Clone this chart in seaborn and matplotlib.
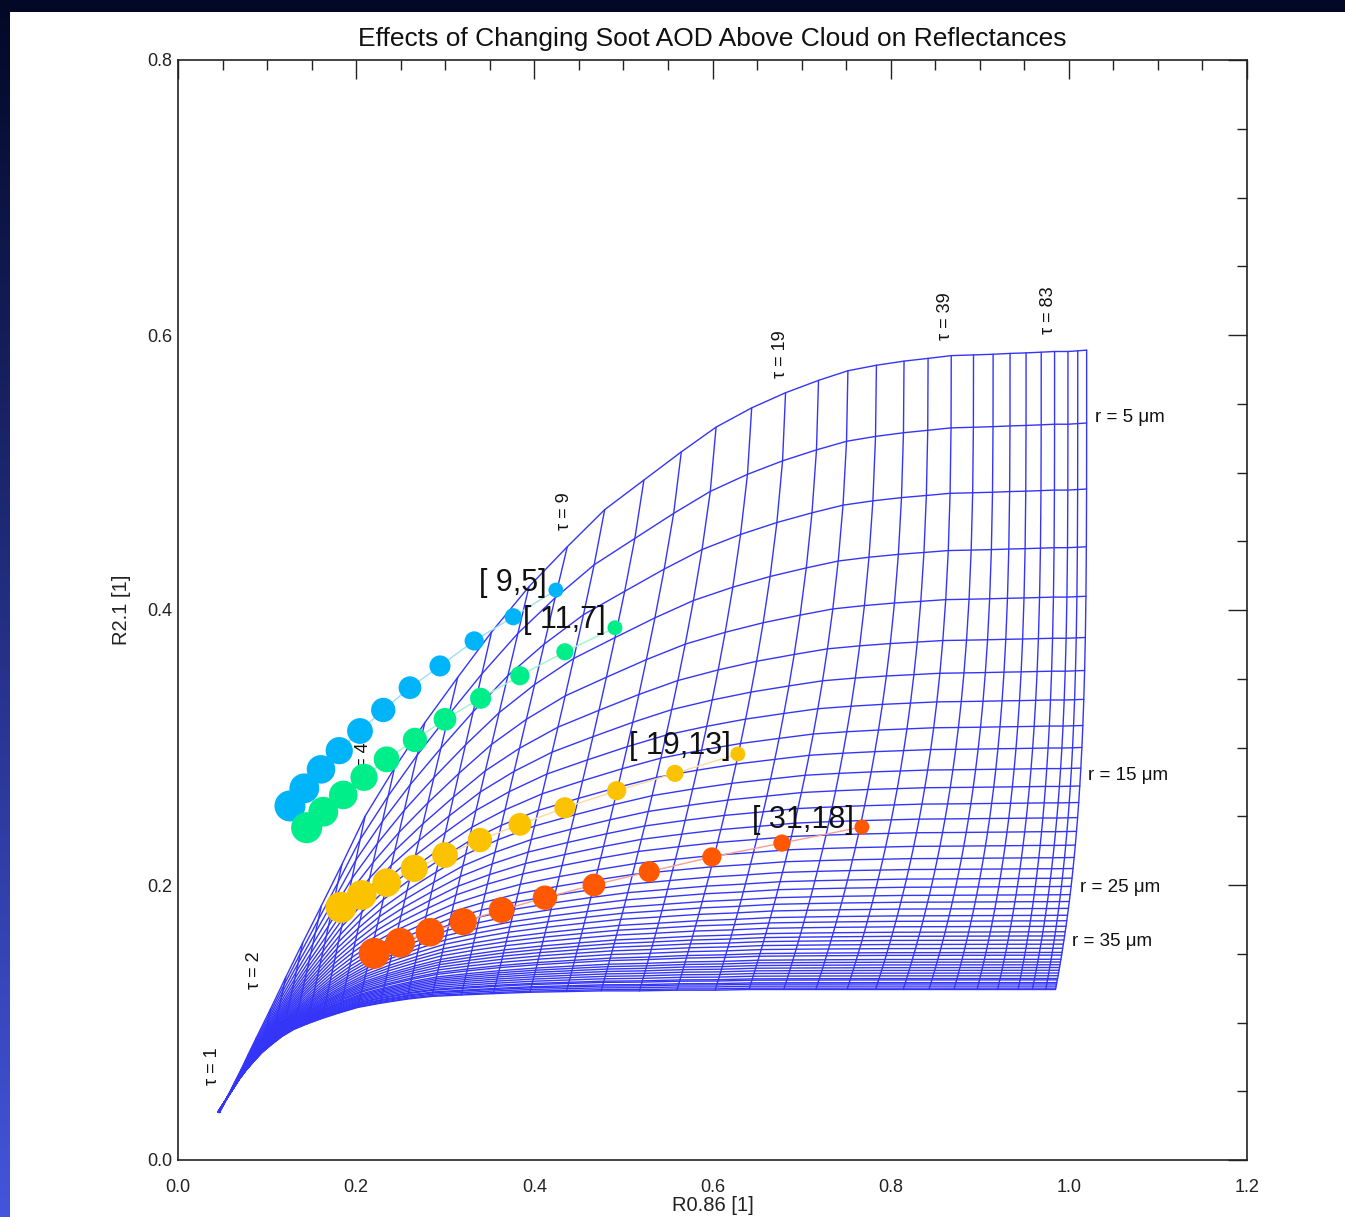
import numpy as np
import pandas as pd
import matplotlib
matplotlib.use("Agg")
import matplotlib.pyplot as plt
from matplotlib.patches import Rectangle
from matplotlib.ticker import MultipleLocator
import seaborn as sns

# ---------------- data ----------------
# optical-thickness lines of the look-up table
tau_values = [1.0, 1.12, 1.26, 1.41, 1.59, 1.78, 2.0, 2.24, 2.52, 2.83, 3.17, 3.56, 4.0,
              4.6, 5.2, 6.0, 6.8, 7.9, 9.0, 10.3, 11.8, 13.5, 15.2, 17.0, 19.0,
              21.7, 24.8, 28.2, 31.5, 35.0, 39.0, 44.5, 51.0, 58.0, 65.0, 73.5, 83.0,
              94.0, 107.0, 122.0]
# each tau line: R0.86 / R2.1 on the smallest-radius edge (top), where it crosses r = 15 um,
# and on the largest-radius edge (bottom)
x_top = [0.047, 0.052, 0.058, 0.064, 0.071, 0.079, 0.088, 0.104, 0.121, 0.140, 0.161, 0.184, 0.210,
         0.243, 0.277, 0.314, 0.352, 0.394, 0.437, 0.479, 0.523, 0.565, 0.604, 0.644, 0.682,
         0.719, 0.752, 0.784, 0.815, 0.842, 0.868, 0.893, 0.915, 0.934, 0.952, 0.969, 0.984,
         0.999, 1.010, 1.020]
y_top = [0.035, 0.041, 0.049, 0.057, 0.066, 0.077, 0.089, 0.110, 0.133, 0.158, 0.185, 0.215, 0.250,
         0.285, 0.318, 0.351, 0.384, 0.417, 0.446, 0.473, 0.4945, 0.515, 0.533, 0.547, 0.558,
         0.567, 0.574, 0.578, 0.581, 0.583, 0.585, 0.5855, 0.586, 0.5866, 0.587, 0.5875, 0.588,
         0.588, 0.5885, 0.589]
x_r15 = [0.0456, 0.0506, 0.0566, 0.0626, 0.0696, 0.0770, 0.0853, 0.0972, 0.1100, 0.1243, 0.1399,
         0.1574, 0.1773, 0.2007, 0.2259, 0.2547, 0.2872, 0.3197, 0.3558, 0.3965, 0.4411, 0.4850,
         0.5279, 0.5734, 0.6173, 0.6610, 0.6998, 0.7382, 0.7744, 0.8074, 0.8383, 0.8669, 0.8927,
         0.9157, 0.9366, 0.9558, 0.9738, 0.9894, 1.0017, 1.0123]
x_bot = [0.045, 0.050, 0.056, 0.062, 0.069, 0.076, 0.084, 0.094, 0.105, 0.117, 0.130, 0.145, 0.162,
         0.181, 0.202, 0.227, 0.257, 0.285, 0.318, 0.354, 0.395, 0.436, 0.475, 0.518, 0.560,
         0.603, 0.641, 0.680, 0.716, 0.751, 0.783, 0.814, 0.843, 0.871, 0.897, 0.920, 0.943,
         0.959, 0.974, 0.985]
y_bot = [0.035, 0.040, 0.046, 0.052, 0.059, 0.065, 0.071, 0.078, 0.084, 0.090, 0.095, 0.099, 0.103,
         0.107, 0.111, 0.114, 0.117, 0.119, 0.120, 0.121, 0.122, 0.1225, 0.123, 0.123, 0.1235,
         0.1235, 0.124, 0.124, 0.124, 0.124, 0.124, 0.124, 0.124, 0.124, 0.124, 0.124, 0.124,
         0.124, 0.124, 0.124]
# effective-radius lines and their R2.1 at the thick-cloud (right) edge
r_values = list(range(4, 51))
r_edge = [0.589, 0.536, 0.488, 0.446, 0.410, 0.380, 0.356, 0.335, 0.316, 0.300, 0.285, 0.272,
          0.260, 0.249, 0.239, 0.229, 0.220, 0.212, 0.205, 0.199, 0.193, 0.188, 0.183, 0.178,
          0.174, 0.170, 0.166, 0.163, 0.160, 0.157, 0.154, 0.151, 0.149, 0.146, 0.144, 0.142,
          0.140, 0.138, 0.136, 0.134, 0.132, 0.131, 0.129, 0.128, 0.1265, 0.125, 0.124]

tau_labels = {1: (0.039, 0.068), 2: (0.086, 0.138), 4: (0.208, 0.290), 9: (0.434, 0.472),
              19: (0.676, 0.586), 39: (0.861, 0.614), 83: (0.977, 0.618)}
r_labels = {5: (1.029, 0.540), 15: (1.021, 0.280), 25: (1.012, 0.1985), 35: (1.003, 0.159)}

# soot AOD series (dots go from the clean-cloud point to increasing AOD)
aod_levels = [0.0, 0.1, 0.2, 0.3, 0.4, 0.5, 0.6, 0.7, 0.8, 0.9, 1.0]
blue_x = [0.4242, 0.3763, 0.3325, 0.2941, 0.2604, 0.2304, 0.2043, 0.1810, 0.1605, 0.1418, 0.1257]
blue_y = [0.4145, 0.3951, 0.3775, 0.3593, 0.3435, 0.3273, 0.3120, 0.2977, 0.2841, 0.2703, 0.2575]
green_x = [0.4905, 0.4343, 0.3838, 0.3397, 0.2997, 0.2660, 0.2342, 0.2088, 0.1855, 0.1631, 0.1444]
green_y = [0.3871, 0.3696, 0.3522, 0.3358, 0.3205, 0.3055, 0.2914, 0.2783, 0.2655, 0.2533, 0.2417]
yellow_x = [0.6285, 0.5578, 0.4924, 0.4343, 0.3838, 0.3389, 0.2997, 0.2652, 0.2342, 0.2062, 0.1829]
yellow_y = [0.2953, 0.2812, 0.2686, 0.2562, 0.2441, 0.2327, 0.2218, 0.2121, 0.2017, 0.1927, 0.1838]
red_x = [0.7677, 0.6779, 0.5993, 0.5290, 0.4669, 0.4119, 0.3633, 0.3202, 0.2828, 0.2492, 0.2203]
red_y = [0.2422, 0.2305, 0.2204, 0.2097, 0.2000, 0.1908, 0.1818, 0.1733, 0.1656, 0.1580, 0.1503]
series_names = ["[ 9,5]", "[ 11,7]", "[ 19,13]", "[ 31,18]"]
series_label_pos = [(0.376, 0.420), (0.434, 0.393), (0.563, 0.301), (0.701, 0.247)]

# ---------------- build tables ----------------
span = r_edge[0] - r_edge[-1]
s_frac = [(v - r_edge[-1]) / span for v in r_edge]          # position of each r line, 0..1
s15 = s_frac[r_values.index(15)]
rows = []
for i, t in enumerate(tau_values):
    dx = x_top[i] - x_bot[i]
    frac15 = (x_top[i] - x_r15[i]) / dx if dx > 0 else 1 - s15
    bend = np.log(max(frac15, 1e-6)) / np.log(1 - s15)       # how strongly the tau line bends
    for j, r in enumerate(r_values):
        s = s_frac[j]
        xv = x_top[i] - dx * (1 - s) ** bend
        yv = y_bot[i] + s * (y_top[i] - y_bot[i])
        rows.append((r, i, xv, yv))
grid_df = pd.DataFrame(rows, columns=["r", "tau_idx", "x", "y"])

dot_frames = []
for name, xs, ys in zip(series_names, [blue_x, green_x, yellow_x, red_x],
                        [blue_y, green_y, yellow_y, red_y]):
    dot_frames.append(pd.DataFrame({"series": name, "aod": aod_levels, "x": xs, "y": ys}))
dots = pd.concat(dot_frames, ignore_index=True)

dot_colors = {"[ 9,5]": "#00b4fa", "[ 11,7]": "#00ee8a", "[ 19,13]": "#fbc200", "[ 31,18]": "#ff5800"}
link_colors = {"[ 9,5]": "#9fdcf8", "[ 11,7]": "#9ff5c8", "[ 19,13]": "#fcd9a0", "[ 31,18]": "#f5a090"}
GRID = "#3535f8"

# ---------------- figure ----------------
sns.set_theme(style="white")
plt.rcParams["font.family"] = ["Liberation Sans", "DejaVu Sans"]
plt.rcParams["axes.unicode_minus"] = False

W, H = 1345, 1217
fig = plt.figure(figsize=(W / 100, H / 100), dpi=100)
fig.patch.set_facecolor("#020826")

bg = fig.add_axes([0, 0, 1, 1], zorder=-10)
bg.set_axis_off()
bg.set_xlim(0, 1)
bg.set_ylim(0, 1)
grad = np.linspace(0, 1, 256)[:, None]
c_top = np.array([0x02, 0x08, 0x26]) / 255
c_bot = np.array([0x44, 0x55, 0xdd]) / 255
img = c_bot[None, None, :] * (1 - grad[:, :, None]) + c_top[None, None, :] * grad[:, :, None]
img = img[::-1]
bg.imshow(img, extent=[0, 10 / W, 0, 1], aspect="auto", origin="upper", zorder=0)
bg.add_patch(Rectangle((10 / W, 0), 1 - 10 / W, 1 - 12 / H, facecolor="white",
                       edgecolor="none", zorder=1))

ax = fig.add_axes([178 / W, 1 - 1160 / H, (1247 - 178) / W, 1100 / H])
ax.set_facecolor("white")

# LUT grid: radius lines and optical thickness lines
sns.lineplot(data=grid_df.sort_values(["r", "tau_idx"]), x="x", y="y", units="r",
             estimator=None, sort=False, color=GRID, lw=1.0, ax=ax, legend=False, zorder=2)
sns.lineplot(data=grid_df.sort_values(["tau_idx", "r"]), x="x", y="y", units="tau_idx",
             estimator=None, sort=False, color=GRID, lw=1.0, ax=ax, legend=False, zorder=2)

# tau / radius labels (under the dots)
for t, (lx, ly) in tau_labels.items():
    ax.text(lx, ly, f"τ = {t}", rotation=90, ha="center", va="center", fontsize=13,
            color="#111111", zorder=3)
for r, (lx, ly) in r_labels.items():
    ax.text(lx, ly, f"r = {r} μm", ha="left", va="center", fontsize=13.5, color="#111111", zorder=3)

# AOD series
for name in series_names:
    sub = dots[dots["series"] == name]
    sns.lineplot(data=sub, x="x", y="y", sort=False, color=link_colors[name], lw=1.0,
                 ax=ax, legend=False, zorder=4)
sns.scatterplot(data=dots, x="x", y="y", hue="series", palette=dot_colors, size="aod",
                sizes=(115, 500), linewidth=0, legend=False, ax=ax, zorder=5, alpha=1)
for name, (lx, ly) in zip(series_names, series_label_pos):
    ax.text(lx, ly, name, ha="center", va="center", fontsize=22, color="#111111", zorder=6)

ax.set_xlim(0, 1.2)
ax.set_ylim(0, 0.8)
ax.set_xticks(np.arange(0, 1.21, 0.2))
ax.set_yticks(np.arange(0, 0.81, 0.2))
ax.xaxis.set_minor_locator(MultipleLocator(0.05))
ax.yaxis.set_minor_locator(MultipleLocator(0.05))
ax.tick_params(which="both", direction="in", top=True, right=True, colors="#222222",
               labelsize=13, width=1.0)
ax.tick_params(which="major", length=14)
ax.tick_params(which="minor", length=7)
ax.tick_params(axis="x", pad=13.5)
ax.tick_params(axis="y", pad=4)
for sp in ax.spines.values():
    sp.set_color("#222222")
    sp.set_linewidth(1.2)
ax.set_xlabel("R0.86 [1]", fontsize=14.5, labelpad=0, color="#222222")
ax.set_ylabel("R2.1 [1]", fontsize=14.5, labelpad=12, color="#222222")
ax.set_title("Effects of Changing Soot AOD Above Cloud on Reflectances", fontsize=19,
             pad=10, color="#111111")

fig.savefig("out.png", dpi=100, facecolor=fig.get_facecolor())
